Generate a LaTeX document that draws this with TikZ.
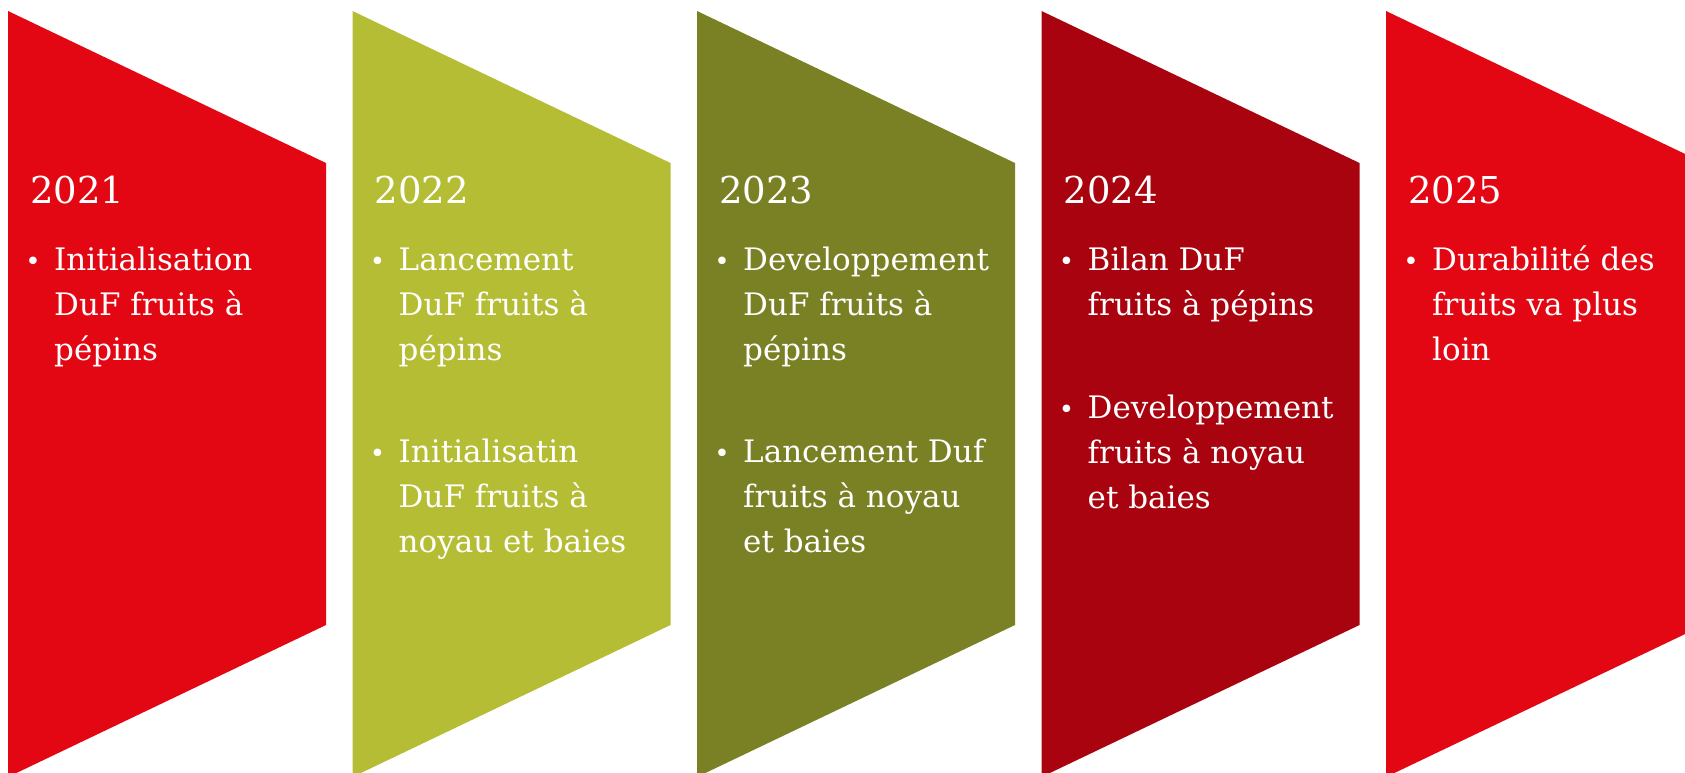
\documentclass[tikz,border=0pt]{standalone}
\usepackage{fontspec}
\setmainfont{DejaVu Serif}
\definecolor{cRed}{HTML}{E30613}
\definecolor{cLime}{HTML}{B5BD35}
\definecolor{cOlive}{HTML}{7A8024}
\definecolor{cDark}{HTML}{A8030F}
\newcommand\bblock[4]{% name, left x, first baseline, lines
  \node[bul] (#1b) at (#2+25,#3) {•};
  \foreach \t [count=\k from 0] in {#4}{%
    \node[ln] (#1l\k) at (#2+46,#3+45*\k) {\t};
  }%
}
\begin{document}
\begin{tikzpicture}[x=1pt,y=-1pt,
  yr/.style={text=white,font=\fontsize{37}{44}\selectfont,anchor=base west,inner sep=0pt},
  ln/.style={text=white,font=\fontsize{31}{36}\selectfont,anchor=base west,inner sep=0pt},
  bul/.style={text=white,font=\fontsize{26}{30}\selectfont,anchor=base,inner sep=0pt}]
\useasboundingbox (0,0) rectangle (1685,772);
\clip (0,0) rectangle (1685,772);
\foreach \i/\c in {0/cRed,1/cLime,2/cOlive,3/cDark,4/cRed}{
  \pgfmathsetmacro\L{8+344.5*\i}
  \fill[\c] (\L,11) -- (\L+318,163) -- (\L+318,625) -- (\L,777) -- cycle;
}
% 2021
\node[yr] (y1) at (8+22,203) {2021};
\bblock{a1}{8}{270}{Initialisation,DuF fruits à,pépins}
% 2022
\node[yr] (y2) at (352.5+22,203) {2022};
\bblock{b1}{352.5}{270}{Lancement,DuF fruits à,pépins}
\bblock{b2}{352.5}{462}{Initialisatin,DuF fruits à,noyau et baies}
% 2023
\node[yr] (y3) at (697+22,203) {2023};
\bblock{c1}{697}{270}{Developpement,DuF fruits à,pépins}
\bblock{c2}{697}{462}{Lancement Duf,fruits à noyau,et baies}
% 2024
\node[yr] (y4) at (1041.5+22,203) {2024};
\bblock{d1}{1041.5}{270}{Bilan DuF,fruits à pépins}
\bblock{d2}{1041.5}{418}{Developpement,fruits à noyau,et baies}
% 2025
\node[yr] (y5) at (1386+22,203) {2025};
\bblock{e1}{1386}{270}{Durabilité des,fruits va plus,loin}
\end{tikzpicture}
\end{document}
